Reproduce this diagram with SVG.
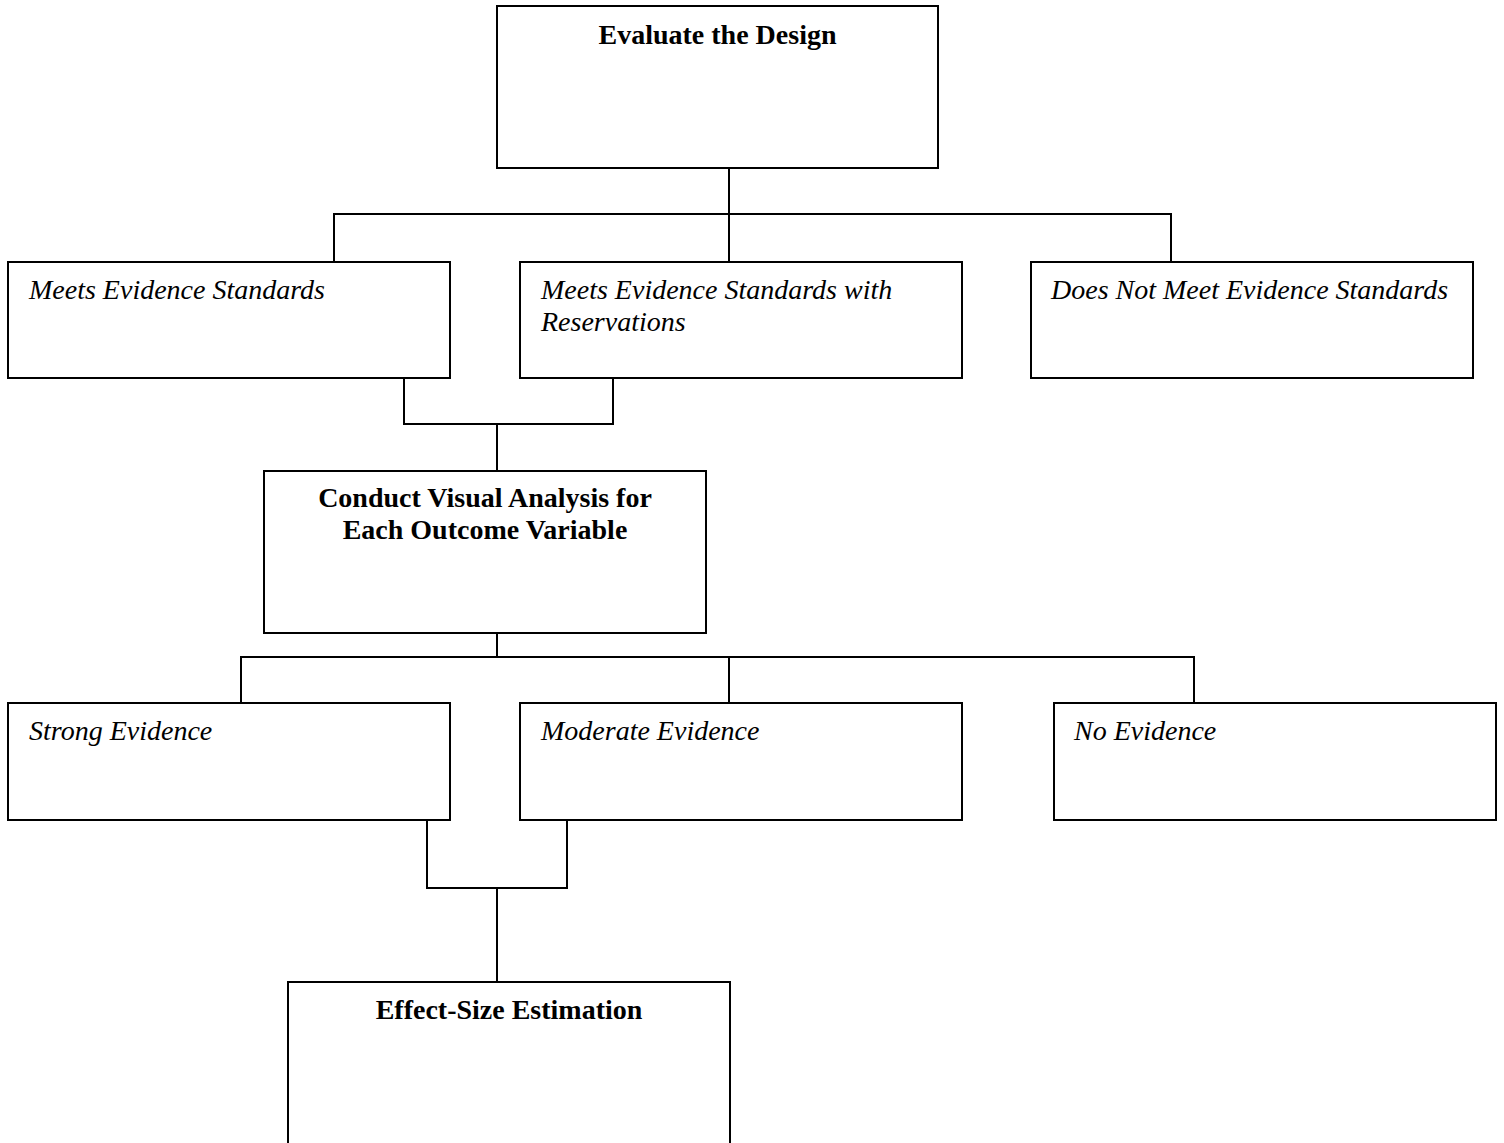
<svg xmlns="http://www.w3.org/2000/svg" width="1504" height="1143" viewBox="0 0 1504 1143">
<style>
.box{fill:#fff;stroke:#000;stroke-width:2}
.conn{fill:none;stroke:#000;stroke-width:2}
.b{font-family:"Liberation Serif","Times New Roman",serif;font-size:28px;font-weight:bold;text-anchor:middle;fill:#000}
.i{font-family:"Liberation Serif","Times New Roman",serif;font-size:28px;font-style:italic;fill:#000}
</style>
<rect width="1504" height="1143" fill="#fff"/>
<g id="connectors" class="conn">
<path d="M729 168V262M334 262V214H1171V262"/>
<path d="M404 378V424H613V378M497 424V471"/>
<path d="M497 633V657M241 703V657H1194V703M729 657V703"/>
<path d="M427 820V888H567V820M497 888V982"/>
</g>
<g id="evaluate"><rect class="box" x="497" y="6" width="441" height="162"/><text class="b" x="717.5" y="44">Evaluate the Design</text></g>
<g id="meets"><rect class="box" x="8" y="262" width="442" height="116"/><text class="i" x="29" y="299">Meets Evidence Standards</text></g>
<g id="meets-res"><rect class="box" x="520" y="262" width="442" height="116"/><text class="i" x="541" y="299">Meets Evidence Standards with</text><text class="i" x="541" y="331">Reservations</text></g>
<g id="not-meet"><rect class="box" x="1031" y="262" width="442" height="116"/><text class="i" x="1051" y="299">Does Not Meet Evidence Standards</text></g>
<g id="visual"><rect class="box" x="264" y="471" width="442" height="162"/><text class="b" x="485" y="507">Conduct Visual Analysis for</text><text class="b" x="485" y="539">Each Outcome Variable</text></g>
<g id="strong"><rect class="box" x="8" y="703" width="442" height="117"/><text class="i" x="29" y="740">Strong Evidence</text></g>
<g id="moderate"><rect class="box" x="520" y="703" width="442" height="117"/><text class="i" x="541" y="740">Moderate Evidence</text></g>
<g id="none"><rect class="box" x="1054" y="703" width="442" height="117"/><text class="i" x="1074" y="740">No Evidence</text></g>
<g id="effect"><rect class="box" x="288" y="982" width="442" height="175"/><text class="b" x="509" y="1019">Effect-Size Estimation</text></g>
</svg>
